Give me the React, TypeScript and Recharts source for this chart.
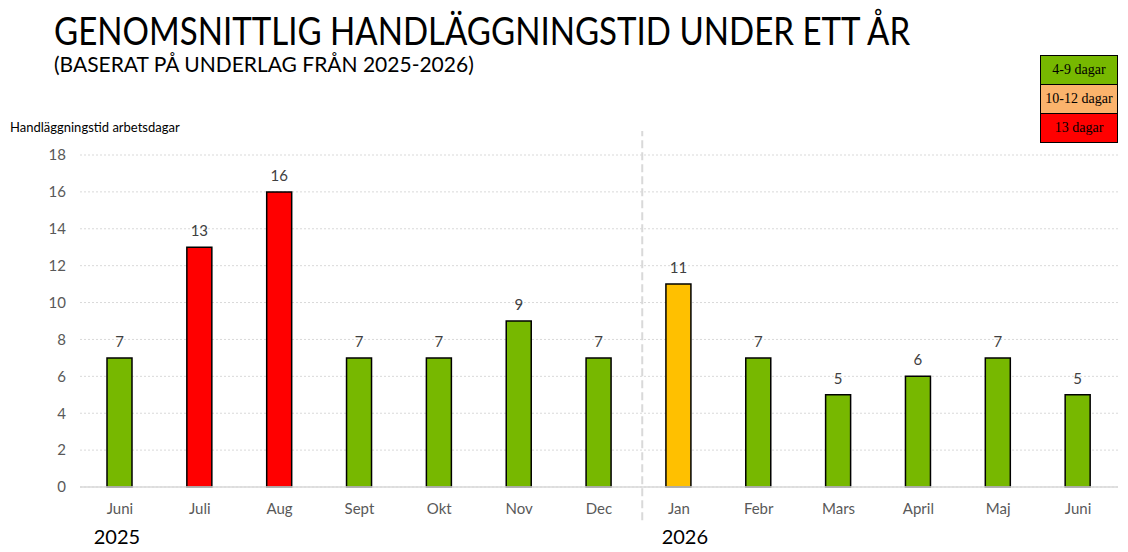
import { Bar, BarChart, CartesianGrid, Cell, LabelList, ReferenceLine, XAxis, YAxis } from "recharts";

const months = ["Juni", "Juli", "Aug", "Sept", "Okt", "Nov", "Dec", "Jan", "Febr", "Mars", "April", "Maj", "Juni"];
const years = ["2025", "", "", "", "", "", "", "2026", "", "", "", "", ""];
const days = [7, 13, 16, 7, 7, 9, 7, 11, 7, 5, 6, 7, 5];
const yTicks = [0, 2, 4, 6, 8, 10, 12, 14, 16, 18];
const legendItems = [
  { label: "4-9 dagar", color: "#77b800" },
  { label: "10-12 dagar", color: "#fbb36c" },
  { label: "13 dagar", color: "#ff0000" },
];

const data = months.map((m, i) => ({ idx: i, month: m, year: years[i], days: days[i] }));

const FONT = "Lato, 'Open Sans', sans-serif";

function barColor(v: number) {
  if (v >= 13) return "#ff0000";
  if (v >= 10) return "#ffc000";
  return "#77b800";
}

function MonthTick(props: any) {
  const { x, y, payload } = props;
  const i = payload.value as number;
  const year = years[i];
  return (
    <g>
      <text x={x} y={y} dy={19} textAnchor="middle" fill="#595959" fontSize={15} fontFamily={FONT}>
        {months[i]}
      </text>
      {year && (
        <text x={x + (i === 0 ? -3 : 6)} y={y} dy={49} textAnchor="middle" fill="#000" fontSize={20} fontFamily={FONT}>
          {year}
        </text>
      )}
    </g>
  );
}

function ValueLabel(props: any) {
  const { x, y, width, value } = props;
  return (
    <text x={x + width / 2} y={y - 11} textAnchor="middle" fill="#404040" fontSize={15} fontFamily={FONT}>
      {value}
    </text>
  );
}

export default function App() {
  return (
    <div style={{ position: "absolute", left: 0, top: 0, width: 1128, height: 552, background: "#fff", fontFamily: FONT }}>
      <div
        style={{
          position: "absolute",
          left: 54,
          top: 7,
          fontSize: 39,
          color: "#000",
          whiteSpace: "nowrap",
          transform: "scaleX(0.848)",
          transformOrigin: "left top",
        }}
      >
        GENOMSNITTLIG HANDLÄGGNINGSTID UNDER ETT ÅR
      </div>
      <div style={{ position: "absolute", left: 54, top: 51, fontSize: 21, color: "#000", whiteSpace: "nowrap" }}>
        (BASERAT PÅ UNDERLAG FRÅN 2025-2026)
      </div>
      <div style={{ position: "absolute", left: 10, top: 119, fontSize: 13, color: "#000", whiteSpace: "nowrap" }}>
        Handläggningstid arbetsdagar
      </div>
      <div style={{ position: "absolute", left: 1040, top: 55, width: 76, border: "1px solid #000" }}>
        {legendItems.map((it, i) => (
          <div
            key={it.label}
            style={{
              height: 28,
              lineHeight: "27px",
              background: it.color,
              borderTop: i > 0 ? "1px solid #000" : "none",
              textAlign: "center",
              fontFamily: "'Liberation Serif', serif",
              fontSize: 14,
              color: "#000",
              whiteSpace: "nowrap",
            }}
          >
            {it.label}
          </div>
        ))}
      </div>
      <BarChart
        width={1128}
        height={552}
        data={data}
        margin={{ top: 155, right: 10, left: 0, bottom: 0 }}
        barCategoryGap={0}
        style={{ position: "absolute", left: 0, top: 0 }}
      >
        <CartesianGrid vertical={false} stroke="#d9d9d9" strokeDasharray="2 2" />
        <XAxis
          dataKey="idx"
          xAxisId="cat"
          height={65}
          tick={<MonthTick />}
          tickLine={false}
          axisLine={{ stroke: "#d9d9d9", strokeWidth: 1.5 }}
          interval={0}
        />
        <XAxis xAxisId="num" type="number" domain={[-0.5, 12.5]} hide />
        <YAxis
          width={80}
          domain={[0, 18]}
          ticks={yTicks}
          interval={0}
          tickLine={false}
          axisLine={false}
          tickMargin={8}
          tick={{ fill: "#595959", fontSize: 15, fontFamily: FONT }}
        />
        <ReferenceLine
          xAxisId="num"
          ifOverflow="visible"
          segment={[{ x: 6.5, y: -1.8 }, { x: 6.5, y: 19.3 }]}
          stroke="#d9d9d9"
          strokeWidth={2}
          strokeDasharray="8 4"
        />
        <Bar dataKey="days" xAxisId="cat" barSize={25} stroke="#000" strokeWidth={1.5} isAnimationActive={false}>
          {data.map((d) => (
            <Cell key={d.idx} fill={barColor(d.days)} />
          ))}
          <LabelList dataKey="days" content={<ValueLabel />} />
        </Bar>
      </BarChart>
    </div>
  );
}
